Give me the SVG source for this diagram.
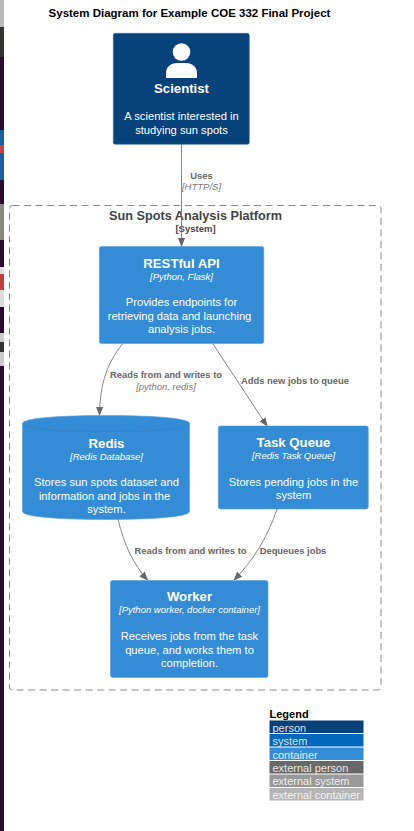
<svg xmlns="http://www.w3.org/2000/svg" width="414" height="831" viewBox="0 0 414 831">
<style>
text{font-family:"Liberation Sans",Arial,sans-serif;text-anchor:middle}
.t{font-weight:bold;font-size:13.200px;fill:#fff}
.s{font-style:italic;font-size:9.500px;fill:#fff}
.d{font-size:11.200px;fill:#fff}
.l{font-weight:bold;font-size:9.400px;fill:#666}
.li{font-style:italic;font-size:9.500px;fill:#777}
.n{fill:#348cd6;stroke:#5a9fdc;stroke-width:.6}
.c{fill:none;stroke:#777;stroke-width:.9}
.lg{font-size:11px;fill:#fff;text-anchor:start;opacity:.85}
</style>
<defs><marker id="a" viewBox="0 0 10 10" refX="9" refY="5" markerWidth="9" markerHeight="9" markerUnits="userSpaceOnUse" orient="auto"><path d="M0 1L10 5L0 9z" fill="#666"/></marker></defs>
<rect width="414" height="831" fill="#fff"/>
<g id="desktop-strip">
<rect width="4" height="831" fill="#2c0a2e"/>
<rect width="4" height="27" fill="#b8b8b8"/>
<rect y="27" width="4" height="30" fill="#333330"/>
<rect y="130" width="4" height="50" fill="#1a5f9e"/>
<rect y="145" width="4" height="8" fill="#c8404a"/>
<rect y="204" width="4" height="36" fill="#8a8a80"/>
<rect y="267" width="4" height="40" fill="#dcdcdc"/>
<rect y="274" width="4" height="16" fill="#c04040"/>
<rect y="333" width="4" height="33" fill="#cccccc"/>
<rect y="342" width="4" height="10" fill="#333"/>
</g>
<text x="189.500" y="17" style="font-weight:bold;font-size:11.500px;fill:#000">System Diagram for Example COE 332 Final Project</text>
<g id="boundary">
<rect x="9.500" y="205.500" width="371.500" height="484.500" rx="3" fill="none" stroke="#888" stroke-width="1" stroke-dasharray="7 4.500"/>
<text x="195.500" y="220" style="font-weight:bold;font-size:12.700px;fill:#444">Sun Spots Analysis Platform</text>
<text x="195.500" y="232" style="font-weight:bold;font-size:9.500px;fill:#444">[System]</text>
</g>
<g id="connectors">
<path class="c" d="M181.500 144V246" marker-end="url(#a)"/>
<path class="c" d="M122.500 344C108 362 100 382 99.500 415" marker-end="url(#a)"/>
<path class="c" d="M213 344L267 426" marker-end="url(#a)"/>
<path class="c" d="M118 519C124 545 134 565 147.500 580" marker-end="url(#a)"/>
<path class="c" d="M277 509C268 537 252 562 234 580" marker-end="url(#a)"/>
</g>
<g id="connector-labels">
<text class="l" x="201.500" y="179">Uses</text>
<text class="li" x="201.500" y="190">[HTTP/S]</text>
<text class="l" x="166" y="378">Reads from and writes to</text>
<text class="li" x="166" y="390">[python, redis]</text>
<text class="l" x="295" y="384">Adds new jobs to queue</text>
<text class="l" x="190.500" y="554">Reads from and writes to</text>
<text class="l" x="293" y="554">Dequeues jobs</text>
</g>
<g id="scientist">
<rect x="113.300" y="33.300" width="136" height="111" rx="2" fill="#08427b" stroke="#3c6a97" stroke-width=".6"/>
<circle cx="181.500" cy="52" r="8.800" fill="#fff"/>
<path d="M166 78V73C166 67 171 63 177 63H186C192 63 197 67 197 73V78z" fill="#fff"/>
<text class="t" x="181.500" y="93">Scientist</text>
<text class="d" x="181.500" y="120">A scientist interested in</text>
<text class="d" x="181.500" y="134">studying sun spots</text>
</g>
<g id="restful-api">
<rect class="n" x="99.300" y="246.500" width="164.500" height="97" rx="2"/>
<text class="t" x="181.500" y="268">RESTful API</text>
<text class="s" x="181.500" y="280">[Python, Flask]</text>
<text class="d" x="181.500" y="306">Provides endpoints for</text>
<text class="d" x="179.500" y="320">retrieving data and launching</text>
<text class="d" x="181.500" y="333">analysis jobs.</text>
</g>
<g id="redis">
<path class="n" d="M22.500 423.500C22.500 418 60 415.500 106 415.500S189.500 418 189.500 423.500V511.500C189.500 517 152 519.500 106 519.500S22.500 517 22.500 511.500z"/>
<path d="M22.500 423.500C22.500 429 60 431.500 106 431.500S189.500 429 189.500 423.500" fill="none" stroke="#2f80c6" stroke-width=".6"/>
<text class="t" x="106.500" y="448">Redis</text>
<text class="s" x="106.500" y="460">[Redis Database]</text>
<text class="d" x="106.500" y="486">Stores sun spots dataset and</text>
<text class="d" x="104.500" y="500">information and jobs in the</text>
<text class="d" x="106.500" y="513">system.</text>
</g>
<g id="task-queue">
<rect class="n" x="218.300" y="426" width="150" height="83" rx="2"/>
<text class="t" x="293.500" y="447">Task Queue</text>
<text class="s" x="293.500" y="459">[Redis Task Queue]</text>
<text class="d" x="293.500" y="486">Stores pending jobs in the</text>
<text class="d" x="293.500" y="499">system</text>
</g>
<g id="worker">
<rect class="n" x="110.500" y="580.500" width="157.500" height="97" rx="2"/>
<text class="t" x="189.500" y="601">Worker</text>
<text class="s" x="189.500" y="613">[Python worker, docker container]</text>
<text class="d" x="189.500" y="640">Receives jobs from the task</text>
<text class="d" x="189.500" y="654">queue, and works them to</text>
<text class="d" x="189.500" y="667">completion.</text>
</g>
<g id="legend">
<text x="269.500" y="718" style="font-weight:bold;font-size:11px;fill:#000;text-anchor:start">Legend</text>
<rect x="269.500" y="720.500" width="94" height="12.500" fill="#08427b"/>
<rect x="269.500" y="734" width="94" height="12.500" fill="#0067bb"/>
<rect x="269.500" y="747.500" width="94" height="12.500" fill="#348cd6"/>
<rect x="269.500" y="761" width="94" height="12.500" fill="#686868"/>
<rect x="269.500" y="774.500" width="94" height="12.500" fill="#999"/>
<rect x="269.500" y="788" width="94" height="12.500" fill="#b5b5b5"/>
<text class="lg" x="272.500" y="732">person</text>
<text class="lg" x="272.500" y="745">system</text>
<text class="lg" x="272.500" y="759">container</text>
<text class="lg" x="272.500" y="772">external person</text>
<text class="lg" x="272.500" y="785">external system</text>
<text class="lg" x="272.500" y="799">external container</text>
</g>
</svg>
